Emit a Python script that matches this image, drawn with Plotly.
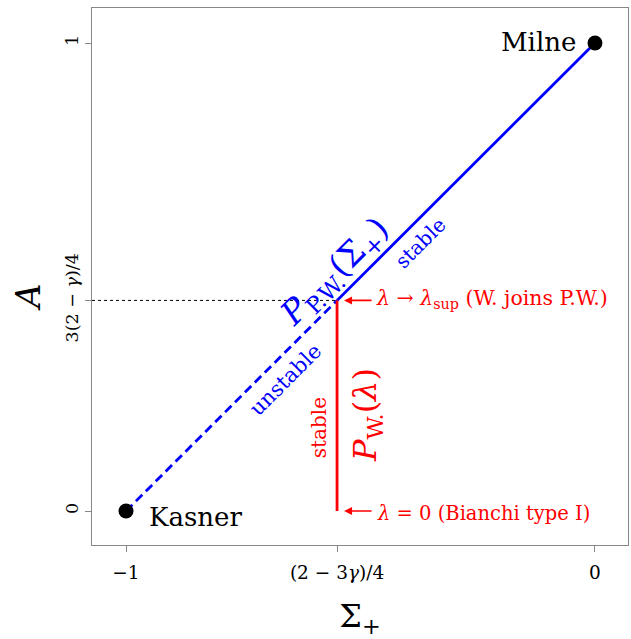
import plotly.graph_objects as go

gamma = 1.4
x_split = (2 - 3 * gamma) / 4      # -0.55
y_split = 3 * (2 - gamma) / 4      # 0.45

# equilibrium points
pt_names = ["Kasner", "Milne"]
pt_x = [-1.0, 0.0]
pt_y = [0.0, 1.0]

# P.W. line segments
pw_unstable_x = [-1.0, x_split]
pw_unstable_y = [0.0, y_split]
pw_stable_x = [x_split, 0.0]
pw_stable_y = [y_split, 1.0]

# W. line
w_x = [x_split, x_split]
w_y = [0.0, y_split]

# tick positions / labels
xtick_vals = [-1.0, x_split, 0.0]
xtick_text = ["\u22121", "(2 \u2212 3<i>\u03b3</i>)/4", "0"]
ytick_vals = [0.0, y_split, 1.0]
ytick_text = ["0", "3(2 \u2212 <i>\u03b3</i>)/4", "1"]

xr = [-1.0725, 0.0704]
yr = [-0.0726, 1.0748]

FONT = "DejaVu Serif"
BLUE = "#0000ff"
RED = "#ff0000"

fig = go.Figure()
fig.add_trace(go.Scatter(x=[xr[0], x_split], y=[y_split, y_split], mode="lines",
                         line=dict(color="black", width=1, dash="dot"), showlegend=False))
fig.add_trace(go.Scatter(x=pw_unstable_x, y=pw_unstable_y, mode="lines",
                         line=dict(color=BLUE, width=2.8, dash="9px,5px"), showlegend=False))
fig.add_trace(go.Scatter(x=pw_stable_x, y=pw_stable_y, mode="lines",
                         line=dict(color=BLUE, width=2.8), showlegend=False))
fig.add_trace(go.Scatter(x=w_x, y=w_y, mode="lines",
                         line=dict(color=RED, width=2.8), showlegend=False))
fig.add_trace(go.Scatter(x=pt_x, y=pt_y, mode="markers",
                         marker=dict(color="black", size=15), showlegend=False))

ann = []
# point labels
ann.append(dict(x=pt_x[1], y=pt_y[1], text=pt_names[1], showarrow=False, xanchor="right",
                xshift=-17, yshift=1, font=dict(size=26, color="black", family=FONT)))
ann.append(dict(x=pt_x[0], y=pt_y[0], text=pt_names[0], showarrow=False, xanchor="left",
                xshift=21, yshift=-6, font=dict(size=26, color="black", family=FONT)))
# blue labels
ann.append(dict(x=-0.522, y=0.478, text="<i>P</i><sub>P.W.</sub>(\u03a3<sub>+</sub>)", showarrow=False,
                textangle=-45, xshift=-15, yshift=15, font=dict(size=33, color=BLUE, family=FONT)))
ann.append(dict(x=-0.40, y=0.60, text="stable", showarrow=False,
                textangle=-45, xshift=13, yshift=-13, font=dict(size=20, color=BLUE, family=FONT)))
ann.append(dict(x=-0.69, y=0.31, text="unstable", showarrow=False,
                textangle=-45, xshift=14, yshift=-14, font=dict(size=21, color=BLUE, family=FONT)))
# red labels
ann.append(dict(x=x_split, y=0.177, text="stable", showarrow=False,
                textangle=-90, xshift=-18, font=dict(size=20, color=RED, family=FONT)))
ann.append(dict(x=x_split, y=0.205, text="<i>P</i><sub>W.</sub>(<i>\u03bb</i>)", showarrow=False,
                textangle=-90, xshift=30, font=dict(size=32, color=RED, family=FONT)))
# red arrows
for yv in [y_split, 0.0]:
    ann.append(dict(x=x_split, y=yv, ax=36, ay=0, text="", showarrow=True, arrowhead=2,
                    arrowsize=1.0, arrowwidth=1.6, arrowcolor=RED, standoff=7,
                    xref="x", yref="y", axref="pixel", ayref="pixel"))
ann.append(dict(x=x_split, y=y_split, text="<i>\u03bb</i> \u2192 <i>\u03bb</i><sub>sup</sub> (W. joins P.W.)",
                showarrow=False, xanchor="left", xshift=37, yshift=1,
                font=dict(size=20.5, color=RED, family=FONT)))
ann.append(dict(x=x_split, y=0.0, text="<i>\u03bb</i> = 0 (Bianchi type I)",
                showarrow=False, xanchor="left", xshift=38, yshift=-2,
                font=dict(size=19.5, color=RED, family=FONT)))
# y axis title
ann.append(dict(xref="paper", yref="paper", x=-0.119, y=0.462, xanchor="center", yanchor="middle",
                text="<i>A</i>", showarrow=False,
                textangle=-90, font=dict(size=34, color="black", family=FONT)))

fig.update_layout(
    width=631, height=639,
    margin=dict(l=92, r=3, t=8, b=94),
    plot_bgcolor="white", paper_bgcolor="white",
    font=dict(family=FONT, color="black"),
    annotations=ann,
    xaxis=dict(range=xr, showgrid=False, zeroline=False, showline=True, mirror=True,
               linecolor="#888888", linewidth=1, ticks="outside", ticklen=6, tickcolor="#888888",
               tickvals=xtick_vals, ticktext=xtick_text, tickfont=dict(size=18.5, family=FONT),
               ticklabelstandoff=5,
               title=dict(text="\u03a3<sub>+</sub>", font=dict(size=32, family=FONT), standoff=26)),
    yaxis=dict(range=yr, showgrid=False, zeroline=False, showline=True, mirror=True,
               linecolor="#888888", linewidth=1, ticks="outside", ticklen=6, tickcolor="#888888",
               tickvals=ytick_vals, ticktext=ytick_text, tickangle=-90,
               tickfont=dict(size=17.5, family=FONT)),
)

fig.write_html("out.html")
